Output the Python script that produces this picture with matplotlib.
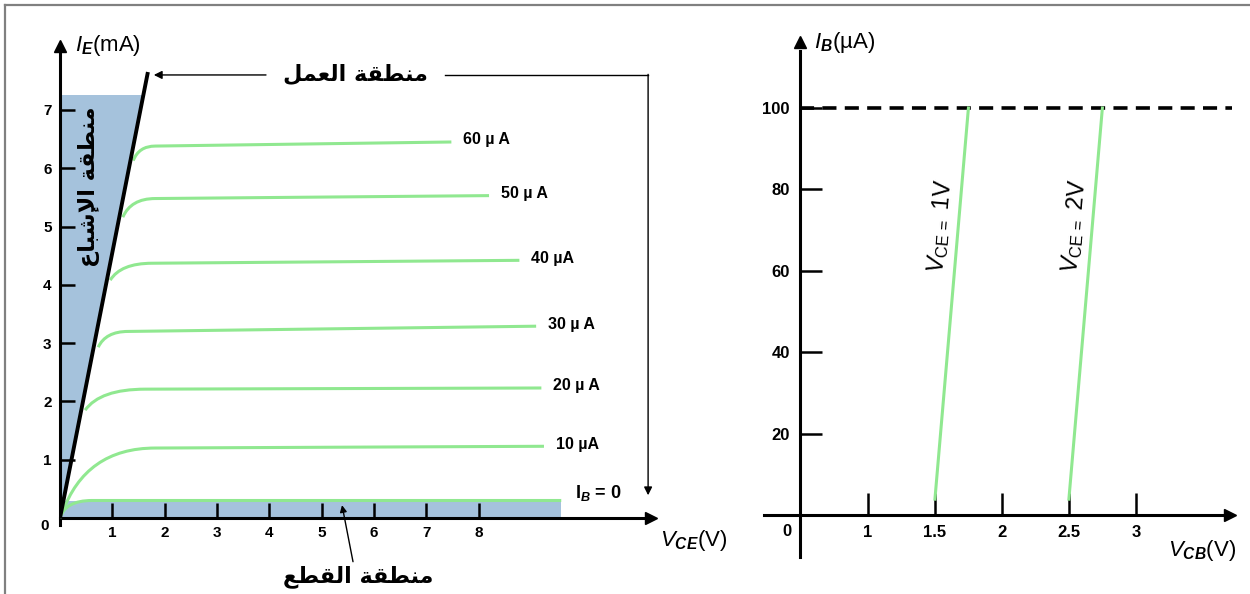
import matplotlib
matplotlib.use('Agg')
import matplotlib.pyplot as plt
from matplotlib.path import Path
from matplotlib.patches import PathPatch
from matplotlib.lines import Line2D
import numpy as np

plt.rcParams['font.family'] = ['Liberation Sans', 'DejaVu Sans']
plt.rcParams['mathtext.fontset'] = 'custom'
plt.rcParams['mathtext.rm'] = 'Liberation Sans'
plt.rcParams['mathtext.it'] = 'Liberation Sans:italic'
plt.rcParams['mathtext.bf'] = 'Liberation Sans:bold:italic'
plt.rcParams['mathtext.sf'] = 'Liberation Sans:bold'

# ---------------- data: left panel (I_E vs V_CE) ----------------
curve_labels = ['60 µ A', '50 µ A', '40 µA', '30 µ A', '20 µ A', '10 µA']
curve_start_x = [1.40, 1.20, 0.96, 0.73, 0.48, 0.04]
curve_start_y = [6.13, 5.16, 4.08, 2.93, 1.85, 0.08]
curve_knee_x = [1.82, 1.82, 1.76, 1.30, 1.63, 1.82]
curve_plateau_start = [6.38, 5.48, 4.37, 3.20, 2.21, 1.20]
curve_end_x = [7.48, 8.20, 8.78, 9.10, 9.20, 9.25]
curve_plateau_end = [6.45, 5.53, 4.42, 3.29, 2.23, 1.23]

# I_B = 0 curve
ib0_knee_x = 0.61
ib0_level = 0.30
ib0_end_x = 9.58

sat_line_x = [0.0, 1.68]
sat_line_y = [0.0, 7.65]
sat_fill_top = 7.25
cut_band_top = 0.29
cut_band_end = 9.58

left_xticks = [1, 2, 3, 4, 5, 6, 7, 8]
left_yticks = [1, 2, 3, 4, 5, 6, 7]

txt_active = 'منطقة العمل'
txt_saturation = 'منطقة الإشباع'
txt_cutoff = 'منطقة القطع'

# ---------------- data: right panel (I_B vs V_CB) ----------------
vce_labels = ['1V', '2V']
vcb_start = [1.5, 2.5]
vcb_end = [1.75, 2.75]
ib_start = [4, 4]
ib_end = [100, 100]
ib_max = 100
right_xticks = [1, 1.5, 2, 2.5, 3]
right_xticklabels = ['1', '1.5', '2', '2.5', '3']
right_yticks = [20, 40, 60, 80, 100]

GREEN = '#90e890'
BLUE = '#a5c2dc'


def shape_arabic(text):
    forms = {
        'ا': ('\uFE8D', '\uFE8E', None, None),
        'إ': ('\uFE87', '\uFE88', None, None),
        'ب': ('\uFE8F', '\uFE90', '\uFE91', '\uFE92'),
        'ة': ('\uFE93', '\uFE94', None, None),
        'ش': ('\uFEB5', '\uFEB6', '\uFEB7', '\uFEB8'),
        'ط': ('\uFEC1', '\uFEC2', '\uFEC3', '\uFEC4'),
        'ع': ('\uFEC9', '\uFECA', '\uFECB', '\uFECC'),
        'ق': ('\uFED5', '\uFED6', '\uFED7', '\uFED8'),
        'ل': ('\uFEDD', '\uFEDE', '\uFEDF', '\uFEE0'),
        'م': ('\uFEE1', '\uFEE2', '\uFEE3', '\uFEE4'),
        'ن': ('\uFEE5', '\uFEE6', '\uFEE7', '\uFEE8'),
    }
    lam_alef = {'ا': ('\uFEFB', '\uFEFC', None, None),
                'إ': ('\uFEF9', '\uFEFA', None, None)}
    tokens = []
    i = 0
    while i < len(text):
        ch = text[i]
        if ch == 'ل' and i + 1 < len(text) and text[i + 1] in lam_alef:
            tokens.append((ch, lam_alef[text[i + 1]]))
            i += 2
            continue
        tokens.append((ch, forms.get(ch)))
        i += 1
    out = []
    n = len(tokens)
    for k, (ch, f) in enumerate(tokens):
        if f is None:
            out.append(ch)
            continue
        jp = k > 0 and tokens[k - 1][1] is not None and tokens[k - 1][1][2] is not None
        jn = k < n - 1 and f[2] is not None and tokens[k + 1][1] is not None
        if jp and jn:
            g = f[3]
        elif jp:
            g = f[1]
        elif jn:
            g = f[2]
        else:
            g = f[0]
        out.append(g)
    return ''.join(out)[::-1]


AR_FONT = dict(family=['DejaVu Sans'], fontweight='bold')

fig = plt.figure(figsize=(12.5, 5.94), dpi=100)

# frame lines (gray) at top and left
fig.add_artist(Line2D([0.004, 1.0], [0.9916, 0.9916], transform=fig.transFigure,
                      color='#808080', lw=1.6))
fig.add_artist(Line2D([0.004, 0.004], [0.0, 0.9916], transform=fig.transFigure,
                      color='#808080', lw=1.6))

# ================= LEFT PANEL =================
ax = fig.add_axes([0.048, 0.1162, 0.4776, 0.8165])
ax.set_xlim(0, 11.41)
ax.set_ylim(-0.12, 8.2)
for s in ['top', 'right']:
    ax.spines[s].set_visible(False)
ax.spines['left'].set_linewidth(2.2)
ax.spines['bottom'].set_linewidth(2.2)
ax.spines['bottom'].set_position(('data', 0))
ax.spines['bottom'].set_bounds(0, 11.2)
ax.spines['left'].set_bounds(-0.12, 8.05)
ax.set_xticks(left_xticks)
ax.set_yticks(left_yticks)
ax.tick_params(axis='both', direction='in', length=11, width=1.8, labelsize=11, pad=6)
for lab in ax.get_xticklabels() + ax.get_yticklabels():
    lab.set_fontweight('bold')
ax.text(-0.3, -0.14, '0', ha='center', va='center', fontsize=11, fontweight='bold')

# arrowheads
ax.plot([0], [8.1], marker='^', ms=9, color='k', clip_on=False, zorder=6)
ax.plot([11.3], [0], marker='>', ms=9, color='k', clip_on=False, zorder=6)

# saturation fill
top_x = float(np.interp(sat_fill_top, sat_line_y, sat_line_x))
ax.fill([0, 0, top_x], [0, sat_fill_top, sat_fill_top], color=BLUE, lw=0, zorder=1)
# cut-off band
ax.fill_between([0, cut_band_end], 0, cut_band_top, color=BLUE, lw=0, zorder=1)

# characteristic curves
for x0, y0, xk, yp0, xe, yp1, lab in zip(curve_start_x, curve_start_y, curve_knee_x,
                                         curve_plateau_start, curve_end_x,
                                         curve_plateau_end, curve_labels):
    cx = x0 + 0.25 * (xk - x0)
    path = Path([(x0, y0), (cx, yp0), (xk, yp0), (xe, yp1)],
                [Path.MOVETO, Path.CURVE3, Path.CURVE3, Path.LINETO])
    ax.add_patch(PathPatch(path, fc='none', ec=GREEN, lw=2.2, zorder=3,
                           capstyle='butt'))
    ax.annotate(lab, xy=(xe, yp1), xytext=(12, 2), textcoords='offset pixels',
                ha='left', va='center', fontsize=11.5, fontweight='bold')

path0 = Path([(0, 0), (0.1, ib0_level), (ib0_knee_x, ib0_level), (ib0_end_x, ib0_level)],
             [Path.MOVETO, Path.CURVE3, Path.CURVE3, Path.LINETO])
ax.add_patch(PathPatch(path0, fc='none', ec=GREEN, lw=2.2, zorder=3))
ax.text(9.85, 0.42, r'$\mathsf{I}_{\mathbf{B}}$' + ' = 0', ha='left', va='center',
        fontsize=13, fontweight='bold')

# saturation boundary line
ax.plot(sat_line_x, sat_line_y, color='k', lw=2.8, zorder=4, solid_capstyle='butt')

# active region label + arrows
ax.text(5.64, 7.6, shape_arabic(txt_active), ha='center', va='center', fontsize=16,
        **AR_FONT)
ax.annotate('', xy=(1.74, 7.6), xytext=(3.99, 7.6),
            arrowprops=dict(arrowstyle='-|>', color='k', lw=1.0, mutation_scale=12))
ax.plot([7.36, 11.24], [7.6, 7.6], color='k', lw=1.0)
ax.annotate('', xy=(11.24, 0.39), xytext=(11.24, 7.61),
            arrowprops=dict(arrowstyle='-|>', color='k', lw=1.0, mutation_scale=12,
                            shrinkA=0, shrinkB=0))

# saturation label (vertical)
ax.text(0.56, 5.69, shape_arabic(txt_saturation), ha='center', va='center',
        rotation=90, fontsize=16, zorder=5, **AR_FONT)

# cut-off label + arrow
ax.text(5.7, -1.0, shape_arabic(txt_cutoff), ha='center', va='center', fontsize=16,
        clip_on=False, **AR_FONT)
ax.annotate('', xy=(5.39, 0.22), xytext=(5.6, -0.75), annotation_clip=False,
            arrowprops=dict(arrowstyle='-|>', color='k', lw=1.0, mutation_scale=10,
                            shrinkA=0, shrinkB=0))

# axis labels
ax.text(0.29, 8.1, r'$\mathit{I}_{\mathbf{E}}$(mA)', ha='left', va='center',
        fontsize=16, clip_on=False)
ax.text(11.47, -0.38, r'$\mathit{V}_{\mathbf{CE}}$(V)', ha='left', va='center',
        fontsize=16, clip_on=False)

# ================= RIGHT PANEL =================
bx = fig.add_axes([0.6112, 0.0623, 0.3768, 0.8704])
bx.set_xlim(0.224, 3.74)
bx.set_ylim(-10.2, 116.7)
for s in ['top', 'right']:
    bx.spines[s].set_visible(False)
bx.spines['left'].set_linewidth(2.2)
bx.spines['bottom'].set_linewidth(2.2)
bx.spines['left'].set_position(('data', 0.49))
bx.spines['bottom'].set_position(('data', 0))
bx.spines['bottom'].set_bounds(0.224, 3.68)
bx.spines['left'].set_bounds(-10.2, 114)
bx.set_xticks(right_xticks)
bx.set_xticklabels(right_xticklabels)
bx.set_yticks(right_yticks)
bx.tick_params(axis='both', direction='in', length=16, width=1.8, labelsize=12, pad=7)
for lab in bx.get_xticklabels() + bx.get_yticklabels():
    lab.set_fontweight('bold')
bx.text(0.395, -4.0, '0', ha='center', va='center', fontsize=12, fontweight='bold')

bx.plot([0.49], [116.2], marker='^', ms=9, color='k', clip_on=False, zorder=6)
bx.plot([3.70], [0], marker='>', ms=9, color='k', clip_on=False, zorder=6)

bx.plot([0.49, 3.72], [ib_max, ib_max], color='k', lw=2.6, dashes=(3.9, 2.3),
        zorder=2)

for x0, x1, y0, y1, lab in zip(vcb_start, vcb_end, ib_start, ib_end, vce_labels):
    bx.plot([x0, x1], [y0, y1], color=GREEN, lw=2.2, zorder=3)
    bx.text((x0 + x1) / 2 - 0.08, 71, r'$V_{\mathrm{CE\,=}}$ ' + lab, rotation=85,
            ha='center', va='center', fontsize=17)

bx.text(0.6, 116, r'$\mathit{I}_{\mathbf{B}}$(µA)', ha='left', va='center',
        fontsize=16, clip_on=False)
bx.text(3.24, -8.7, r'$\mathit{V}_{\mathbf{CB}}$(V)', ha='left', va='center',
        fontsize=16, clip_on=False)

fig.savefig('out.png', dpi=100)
